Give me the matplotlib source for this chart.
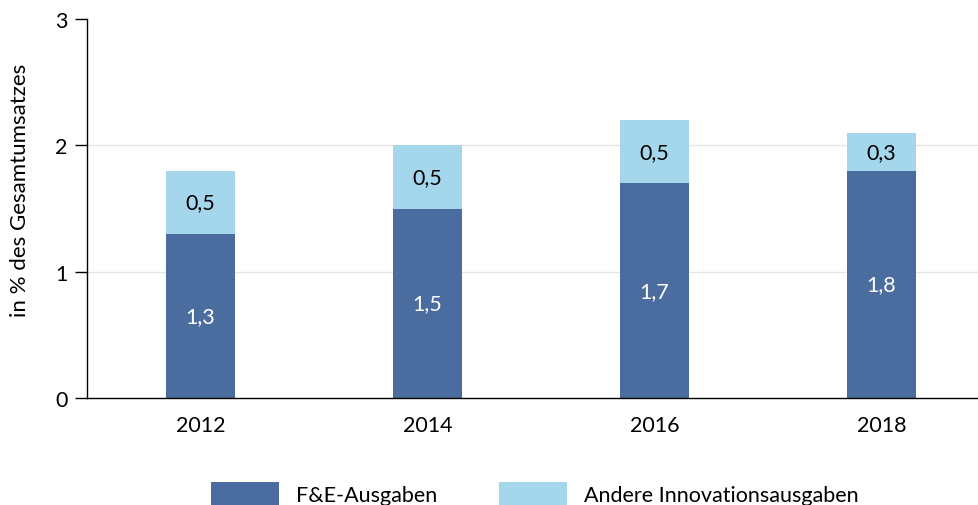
import matplotlib.pyplot as plt
import numpy as np

plt.rcParams['font.family'] = ['Lato', 'DejaVu Sans']

years = ['2012', '2014', '2016', '2018']
fue = [1.3, 1.5, 1.7, 1.8]
andere = [0.5, 0.5, 0.5, 0.3]
fue_labels = ['1,3', '1,5', '1,7', '1,8']
andere_labels = ['0,5', '0,5', '0,5', '0,3']

dark = '#4a6c9e'
light = '#a5d7ec'

fig = plt.figure(figsize=(9.79, 5.06), dpi=100)
ax = fig.add_axes([87 / 979, 1 - 399 / 506, 1 - 87 / 979, (399 - 20) / 506])

x = np.arange(len(years))
w = 0.305
b1 = ax.bar(x, fue, width=w, color=dark, label='F&E-Ausgaben', zorder=2)
b2 = ax.bar(x, andere, width=w, bottom=fue, color=light,
            label='Andere Innovationsausgaben', zorder=2)

ax.bar_label(b1, labels=fue_labels, label_type='center', color='white', fontsize=15.5)
ax.bar_label(b2, labels=andere_labels, label_type='center', color='black', fontsize=15.5)

ax.set_xlim(-0.5, 3.43)
ax.set_ylim(0, 3)
ax.set_yticks([0, 1, 2, 3])
ax.set_xticks(x)
ax.set_xticklabels(years)
ax.tick_params(axis='x', length=0, labelsize=15.5, pad=12)
ax.tick_params(axis='y', length=9, width=1, labelsize=15.5, pad=5)

for y in [1, 2]:
    ax.axhline(y, color='#e6e6e6', lw=1, zorder=1)

for s in ['top', 'right']:
    ax.spines[s].set_visible(False)
ax.spines['left'].set_linewidth(1)
ax.spines['bottom'].set_linewidth(1)

ax.set_ylabel('in % des Gesamtumsatzes', fontsize=16)
ax.yaxis.set_label_coords(-57 / 892, 0.55)

fig.legend(handles=[b1, b2], loc='center', bbox_to_anchor=(535 / 979, 1 - 495 / 506),
           ncol=2, frameon=False, fontsize=15.5, handlelength=3.15, handleheight=1.3,
           handletextpad=0.8, columnspacing=2.85)

plt.savefig('out.png', dpi=100)
